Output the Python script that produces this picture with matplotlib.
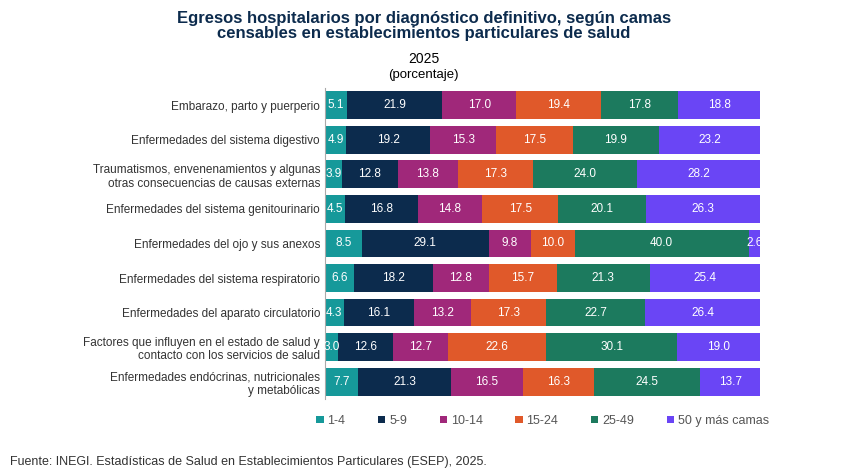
import matplotlib.pyplot as plt
import numpy as np

plt.rcParams['font.family'] = ['Liberation Sans', 'DejaVu Sans']

categories = [
    "Embarazo, parto y puerperio",
    "Enfermedades del sistema digestivo",
    "Traumatismos, envenenamientos y algunas\notras consecuencias de causas externas",
    "Enfermedades del sistema genitourinario",
    "Enfermedades del ojo y sus anexos",
    "Enfermedades del sistema respiratorio",
    "Enfermedades del aparato circulatorio",
    "Factores que influyen en el estado de salud y\ncontacto con los servicios de salud",
    "Enfermedades endócrinas, nutricionales\ny metabólicas",
]
series = ["1-4", "5-9", "10-14", "15-24", "25-49", "50 y más camas"]
v_1_4 = [5.1, 4.9, 3.9, 4.5, 8.5, 6.6, 4.3, 3.0, 7.7]
v_5_9 = [21.9, 19.2, 12.8, 16.8, 29.1, 18.2, 16.1, 12.6, 21.3]
v_10_14 = [17.0, 15.3, 13.8, 14.8, 9.8, 12.8, 13.2, 12.7, 16.5]
v_15_24 = [19.4, 17.5, 17.3, 17.5, 10.0, 15.7, 17.3, 22.6, 16.3]
v_25_49 = [17.8, 19.9, 24.0, 20.1, 40.0, 21.3, 22.7, 30.1, 24.5]
v_50 = [18.8, 23.2, 28.2, 26.3, 2.6, 25.4, 26.4, 19.0, 13.7]
colors = ["#16999a", "#0c2b4d", "#a0287a", "#e0592a", "#1c7a5e", "#6a45f5"]

data = [v_1_4, v_5_9, v_10_14, v_15_24, v_25_49, v_50]

fig = plt.figure(figsize=(8.65, 4.75), dpi=100)
ax = fig.add_axes([0.3757, 0.16, 0.503, 0.655])
y = np.arange(len(categories))
left = np.zeros(len(categories))
for name, vals, c in zip(series, data, colors):
    vals = np.array(vals)
    ax.barh(y, vals, left=left, color=c, height=0.8, label=name)
    for yi, l, v in zip(y, left, vals):
        ax.text(l + v / 2, yi, "%.1f" % v, ha="center", va="center",
                color="white", fontsize=8.5)
    left += vals

ax.set_ylim(len(categories) - 0.5, -0.5)
ax.set_xlim(0, 100)
ax.set_yticks(y)
ax.set_yticklabels(categories, fontsize=8.5, color="#333333")
ax.tick_params(axis="y", length=0)
ax.set_xticks([])
for s in ["top", "right", "bottom"]:
    ax.spines[s].set_visible(False)
ax.spines["left"].set_color("#aaaaaa")

fig.text(0.49, 0.945, "Egresos hospitalarios por diagnóstico definitivo, según camas\ncensables en establecimientos particulares de salud",
         ha="center", va="center", fontsize=12, fontweight="bold", color="#0c2b4d", linespacing=1.0)
fig.text(0.49, 0.875, "2025", ha="center", va="center", fontsize=10)
fig.text(0.49, 0.843, "(porcentaje)", ha="center", va="center", fontsize=9.5)

ax.legend(loc="upper center", bbox_to_anchor=(0.5, -0.015), ncol=6, frameon=False,
          fontsize=9, handlelength=0.6, handleheight=0.6, handletextpad=0.3,
          columnspacing=2.6, labelcolor="#555555")

fig.text(0.012, 0.02, "Fuente: INEGI. Estadísticas de Salud en Establecimientos Particulares (ESEP), 2025.",
         fontsize=9, color="#333333")
fig.savefig("out.png", dpi=100)
